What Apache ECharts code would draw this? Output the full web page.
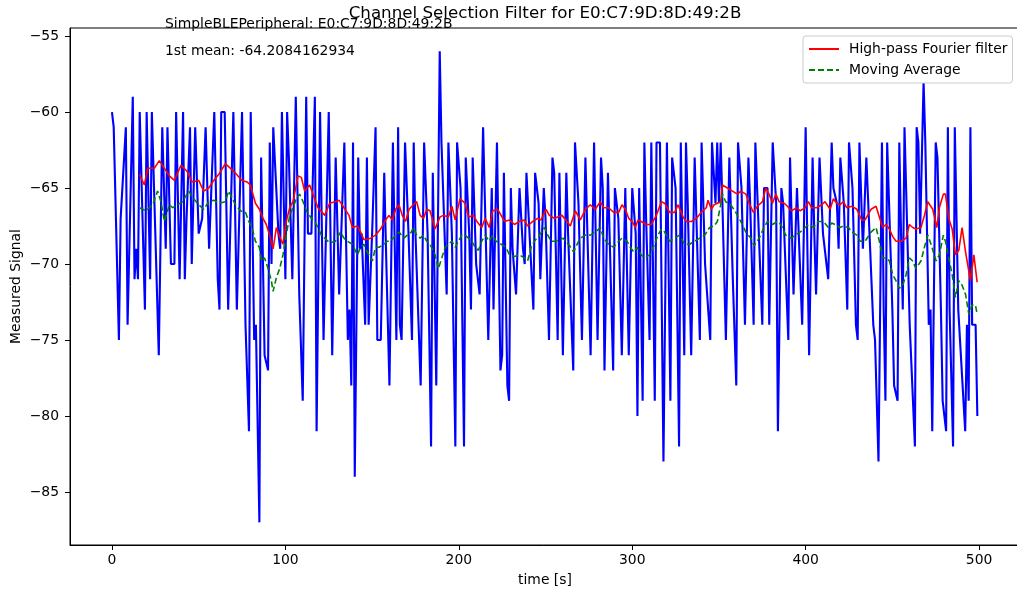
<!DOCTYPE html>
<html>
<head>
<meta charset="utf-8">
<script src="https://cdn.jsdelivr.net/npm/echarts@6/dist/echarts.min.js"></script>
<style>
  html, body { margin: 0; padding: 0; background: #ffffff; }
  #chart { width: 1017px; height: 594px; }
</style>
</head>
<body>
<div id="chart"></div>
<script>
// RSSI samples of the peripheral, as [time s, dBm] vertices
const rawSignal = [
  [0,-60],[1,-61],[2,-61],[4,-75],[5,-67],[6,-67],[8,-61],[9,-74],[12,-59],[13,-71],[14,-69],[15,-71],
  [16,-60],[17,-60],[19,-73],[20,-60],[21,-60],[22,-71],[23,-60],[24,-60],[27,-76],[29,-61],[30,-61],
  [31,-69],[32,-61],[33,-61],[34,-70],[36,-70],[37,-60],[38,-60],[39,-71],[41,-60],[42,-71],[43,-67],
  [45,-61],[46,-70],[48,-61],[50,-68],[52,-67],[54,-61],[56,-69],[59,-60],[61,-71],[62,-73],[63,-60],
  [65,-60],[67,-73],[70,-60],[72,-73],[75,-60],[77,-74],[79,-81],[80,-60],[82,-75],[83,-74],[85,-87],
  [86,-63],[88,-76],[90,-77],[91,-62],[92,-70],[93,-61],[96,-68],[97,-69],[98,-60],[100,-71],[101,-60],
  [102,-63],[103,-63],[104,-71],[106,-59],[107,-59],[108,-72],[110,-79],[112,-59],[113,-68],[115,-68],
  [117,-59],[118,-81],[120,-60],[122,-75],[123,-75],[125,-60],[127,-76],[129,-63],[131,-72],[134,-62],
  [136,-75],[137,-73],[138,-78],[139,-62],[140,-84],[142,-63],[143,-69],[144,-68],[146,-74],[147,-63],
  [148,-74],[150,-68],[152,-61],[153,-75],[155,-75],[157,-64],[158,-69],[160,-78],[162,-62],[164,-75],
  [165,-61],[166,-74],[167,-75],[169,-62],[171,-68],[173,-75],[174,-62],[175,-68],[178,-78],[180,-62],
  [182,-68],[184,-82],[185,-64],[187,-78],[189,-56],[190,-62],[191,-62],[193,-72],[194,-62],[196,-68],
  [198,-82],[199,-62],[201,-65],[203,-82],[204,-63],[206,-68],[207,-73],[208,-63],[210,-70],[212,-72],
  [213,-72],[214,-61],[217,-75],[219,-65],[220,-73],[222,-62],[224,-77],[225,-76],[226,-64],[228,-78],
  [229,-79],[230,-65],[231,-69],[233,-72],[234,-72],[235,-65],[237,-69],[238,-70],[239,-64],[240,-64],
  [243,-73],[244,-64],[246,-66],[247,-71],[249,-65],[250,-67],[252,-75],[253,-75],[254,-63],[255,-64],
  [257,-75],[258,-64],[260,-76],[262,-64],[263,-68],[264,-68],[266,-77],[267,-62],[269,-66],[271,-75],
  [273,-63],[276,-76],[278,-62],[280,-75],[282,-63],[283,-65],[284,-77],[286,-64],[289,-77],[290,-65],
  [292,-67],[294,-76],[296,-65],[298,-76],[300,-65],[302,-68],[303,-80],[304,-65],[305,-65],[306,-79],
  [307,-62],[308,-67],[310,-75],[311,-62],[313,-79],[314,-62],[316,-62],[318,-83],[320,-62],[322,-79],
  [323,-63],[325,-65],[327,-82],[328,-62],[330,-76],[331,-62],[332,-66],[333,-66],[334,-76],[336,-63],
  [339,-75],[340,-62],[342,-70],[345,-75],[346,-62],[348,-66],[349,-62],[350,-66],[351,-62],[352,-66],
  [353,-66],[354,-75],[356,-63],[357,-63],[358,-71],[360,-78],[361,-62],[363,-65],[365,-74],[366,-74],
  [367,-63],[368,-66],[370,-74],[371,-62],[373,-68],[375,-74],[376,-65],[378,-65],[379,-74],[381,-62],
  [383,-66],[384,-81],[386,-65],[387,-66],[388,-66],[390,-75],[391,-63],[392,-63],[393,-72],[395,-65],
  [396,-65],[398,-74],[400,-61],[401,-69],[402,-76],[404,-63],[405,-68],[406,-72],[408,-63],[410,-68],
  [413,-71],[415,-62],[416,-65],[418,-66],[419,-69],[420,-63],[422,-66],[424,-73],[425,-62],[427,-65],
  [429,-74],[430,-75],[431,-62],[433,-69],[434,-69],[435,-63],[436,-63],[439,-74],[440,-75],[442,-83],
  [444,-62],[445,-73],[446,-79],[447,-62],[448,-62],[450,-73],[451,-78],[453,-79],[454,-62],[455,-68],
  [456,-73],[457,-61],[458,-61],[460,-74],[461,-74],[463,-82],[464,-61],[465,-62],[466,-68],[468,-58],
  [469,-62],[470,-62],[471,-74],[472,-73],[473,-81],[475,-62],[476,-63],[478,-73],[479,-79],[481,-81],
  [482,-61],[483,-73],[485,-82],[486,-61],[487,-61],[488,-73],[489,-73],[492,-81],[493,-74],[494,-79],
  [495,-61],[496,-74],[498,-74],[499,-80]
];

// High-pass Fourier filter output
const fourierFilter = [
  [15.8,-64.1],[18.7,-64.8],[20.6,-63.7],[24.4,-63.7],[27.3,-63.2],[33.1,-64.2],[36,-64.5],[39.8,-63.5],
  [43.3,-63.9],[46.2,-64.6],[50,-64.5],[52.9,-65.2],[55.8,-65.0],[58.7,-64.5],[61.6,-64.1],[65.4,-63.4],
  [70.2,-63.9],[75,-64.5],[77.9,-64.6],[79.8,-64.8],[82.7,-66.0],[85,-66.4],[87.1,-67.0],[89,-67.4],
  [90.9,-68.1],[92.9,-69.0],[94.8,-67.6],[96.7,-68.2],[98.6,-68.7],[100.5,-67.2],[102.5,-66.3],
  [104.4,-65.9],[107.3,-64.2],[109.2,-64.3],[111.1,-65.2],[114,-64.8],[115.9,-65.4],[118.8,-66.3],
  [122.7,-66.8],[125.5,-66.0],[128.8,-65.9],[130.9,-65.8],[133.8,-66.3],[136.7,-66.8],[138.6,-67.6],
  [141.5,-67.5],[143.4,-67.9],[145.3,-68.4],[149.2,-68.3],[152,-68.1],[154.9,-67.7],[157.8,-67.1],
  [159.7,-66.8],[161.7,-67.1],[163.6,-66.4],[165.5,-66.1],[167.4,-66.8],[169.3,-67.2],[171.3,-66.4],
  [173.8,-66.1],[175.7,-65.9],[177.7,-66.8],[179.6,-67.0],[181.5,-66.4],[183.4,-66.5],[186.3,-67.7],
  [189.2,-66.9],[191.1,-66.8],[194,-66.9],[196,-66.2],[197.9,-67.1],[200.7,-65.7],[203.6,-66.0],
  [205.6,-66.9],[208.4,-66.8],[210.4,-67.2],[213.2,-67.6],[215.2,-67.0],[217.6,-67.6],[219.5,-66.5],
  [222.4,-66.4],[224.4,-66.8],[226.3,-67.2],[229.2,-67.1],[232.1,-67.4],[234.9,-67.2],[237.8,-67.1],
  [239.7,-67.5],[242.6,-67.2],[245.5,-67.0],[247.4,-67.1],[250.3,-66.4],[252.2,-66.8],[255.1,-67.0],
  [257,-66.9],[259.5,-66.8],[262.4,-67.2],[264.3,-67.5],[267.2,-66.5],[270.1,-67.1],[273,-66.4],
  [275.8,-66.1],[278.7,-66.4],[281.6,-65.9],[283.5,-66.3],[286.4,-66.3],[289.3,-66.6],[292.2,-66.6],
  [294.1,-66.1],[296,-66.4],[298,-67.0],[299.9,-67.2],[301.8,-67.6],[303.3,-67.1],[305.2,-67.2],
  [308.1,-67.4],[311,-67.4],[313.9,-66.8],[316.8,-65.9],[318.7,-66.0],[321.6,-66.6],[324.5,-66.6],
  [326.4,-66.1],[329.3,-66.9],[331.2,-67.2],[334.1,-67.2],[337,-67.0],[339.8,-66.6],[342.7,-66.3],
  [343.7,-65.8],[345.6,-66.4],[347.2,-66.1],[351,-65.9],[352,-64.8],[354.9,-65.0],[357.8,-65.2],
  [360.7,-65.4],[362.6,-65.2],[365.5,-65.4],[367.4,-66.0],[369.9,-66.6],[372.2,-66.2],[375.1,-65.9],
  [377,-65.0],[378.9,-65.4],[380.9,-66.0],[382.8,-65.4],[384.7,-65.9],[387.6,-66.0],[389.5,-66.2],
  [391.8,-66.5],[394.8,-66.3],[396.8,-66.5],[399.7,-66.3],[401.6,-65.9],[403.5,-66.3],[406.4,-66.3],
  [409.3,-66.1],[411.2,-65.9],[414.1,-66.4],[416,-65.7],[417.9,-66.0],[419.8,-66.1],[421.8,-65.9],
  [423.7,-66.3],[426.6,-66.2],[429.5,-66.4],[432.3,-67.1],[434.3,-67.1],[437.7,-66.4],[440.6,-66.2],
  [442.5,-66.9],[444.4,-67.6],[446.3,-67.4],[448.3,-67.7],[450.2,-68.2],[452.1,-68.5],[455,-68.5],
  [457.9,-68.3],[459.8,-67.4],[461.7,-67.6],[463.6,-67.7],[466.5,-67.6],[468.5,-66.8],[470.4,-65.9],
  [473.3,-66.4],[475.6,-67.6],[477.1,-66.3],[479.4,-65.4],[480.6,-65.4],[482.5,-67.0],[484.5,-67.7],
  [486.4,-69.4],[488.3,-69.1],[490.2,-67.6],[492.2,-69.2],[495,-71.1],[497,-69.4],[498.9,-71.2]
];

// Moving average of the raw signal
const movingAverage = [
  [15.8,-66.3],[19.6,-66.5],[23.5,-66.1],[26.3,-65.2],[28.3,-65.9],[30.2,-67.2],[33.1,-66.1],[35,-66.3],
  [37.9,-66.1],[40.8,-65.9],[44.2,-65.2],[47.1,-65.7],[50,-66.1],[52.9,-66.4],[55.8,-65.9],[58.7,-65.8],
  [61.6,-66.0],[65.4,-65.9],[67.3,-65.2],[71.2,-66.1],[74.1,-66.5],[77,-66.6],[78.9,-67.2],[80.8,-67.6],
  [82.7,-68.5],[85,-68.9],[86.1,-69.8],[88,-69.6],[90,-70.3],[91.9,-71.1],[92.9,-71.8],[94.8,-70.9],
  [96.7,-70.3],[98.6,-69.4],[100.5,-68.1],[102.5,-66.8],[104.4,-66.3],[106.3,-65.7],[108.2,-65.4],
  [110.2,-65.9],[112.1,-66.5],[115,-67.0],[116.9,-67.2],[118.8,-67.6],[120.7,-68.1],[122.7,-68.3],
  [125.5,-68.6],[128.8,-68.5],[131.8,-67.9],[133.8,-68.3],[135.7,-68.5],[138.6,-68.7],[141.5,-69.4],
  [143.4,-68.9],[145.3,-68.7],[147.2,-69.2],[150.1,-69.8],[152,-68.9],[154,-68.9],[156.8,-68.7],
  [158.8,-68.5],[160.7,-68.5],[163.6,-68.1],[165.5,-67.9],[168.4,-68.3],[170.3,-68.1],[172.6,-67.9],
  [173.8,-67.6],[175.7,-68.1],[177.7,-68.3],[179.6,-68.1],[181.5,-68.5],[183.4,-68.7],[186.3,-69.4],
  [188.2,-70.3],[190.2,-69.6],[192.1,-68.9],[194,-68.7],[196,-68.5],[197.9,-68.9],[199.8,-68.5],
  [201.7,-68.1],[203.6,-68.1],[205.6,-68.3],[207.5,-68.5],[209.4,-68.9],[211.3,-69.1],[213.2,-68.5],
  [215.2,-68.1],[217.6,-68.5],[219.5,-68.1],[221.5,-68.5],[224.4,-68.7],[227.2,-68.9],[229.2,-69.4],
  [232.1,-69.5],[234.9,-69.4],[237.8,-69.6],[239.7,-69.8],[241.7,-68.9],[243.6,-68.5],[246.5,-68.1],
  [249.4,-67.6],[251.3,-68.1],[253.2,-68.5],[256.1,-68.5],[260.3,-68.3],[261.4,-68.5],[263.3,-68.7],
  [266.2,-69.2],[268.2,-68.7],[270.1,-68.3],[273,-68.1],[275.8,-68.1],[278.7,-67.9],[281.6,-67.6],
  [283.5,-68.3],[286.4,-68.7],[289.3,-68.9],[292.2,-68.5],[294.1,-68.3],[297,-68.5],[298.9,-68.9],
  [300.8,-69.2],[302.8,-68.9],[305.2,-69.4],[307.1,-69.6],[310,-69.4],[312.9,-68.7],[314.8,-68.1],
  [316.8,-67.7],[318.7,-67.9],[321.6,-68.5],[324.5,-68.3],[327.3,-68.1],[330.2,-68.7],[333.1,-68.7],
  [336,-68.5],[338.9,-68.3],[341.8,-68.1],[344.6,-67.6],[347.2,-67.5],[349.1,-67.2],[351,-66.1],
  [352,-65.4],[353.9,-65.9],[356.8,-66.1],[359.7,-66.6],[362.6,-67.2],[365.5,-67.9],[368.4,-68.3],
  [370.3,-68.8],[373.2,-68.3],[376,-67.6],[378,-67.2],[380.9,-67.4],[383.7,-67.2],[385.7,-67.4],
  [388.5,-68.1],[391.8,-68.3],[393.9,-68.1],[396.8,-67.9],[399.7,-67.6],[401.6,-67.4],[404.5,-67.6],
  [407.3,-67.2],[410.2,-67.2],[413.1,-67.6],[415,-67.3],[417,-67.4],[419.8,-67.6],[421.8,-67.5],
  [424.7,-67.6],[426.6,-67.9],[429.5,-68.1],[431.4,-68.5],[434.3,-68.5],[437.7,-67.9],[440.6,-67.6],
  [442.5,-68.5],[444.4,-69.6],[446.3,-69.6],[448.3,-69.8],[450.2,-70.7],[452.1,-71.1],[454,-71.6],
  [456,-71.4],[457.9,-70.7],[459.8,-69.6],[461.7,-69.8],[463.6,-70.3],[466.5,-69.8],[468.5,-68.9],
  [470.4,-68.1],[472.3,-68.7],[475.2,-69.8],[477.1,-69.4],[479.4,-68.1],[480.6,-68.5],[482.5,-69.6],
  [484.5,-70.7],[486.4,-72.2],[488.3,-71.1],[490.2,-71.4],[492.2,-72.0],[494.1,-73.3],[496,-72.7],
  [497.9,-72.7],[498.9,-73.3]
];

const xTicks = [0, 100, 200, 300, 400, 500];
const yTicks = [-85, -80, -75, -70, -65, -60, -55];

const chartTitle = 'Channel Selection Filter for E0:C7:9D:8D:49:2B';
const deviceNote = 'SimpleBLEPeripheral: E0:C7:9D:8D:49:2B';
const meanNote = '1st mean: -64.2084162934';

const FONT = 'DejaVu Sans';
// tick labels use the typographic minus sign
const fmtTick = v => String(v).replace('-', '\u2212');

const chart = echarts.init(document.getElementById('chart'), null, { renderer: 'canvas' });

chart.setOption({
  animation: false,
  backgroundColor: '#ffffff',
  textStyle: { fontFamily: FONT },
  grid: {
    left: 70, top: 28, right: -3, bottom: 49,
    outerBoundsMode: 'none', containLabel: false,
    show: true, borderColor: '#000000', borderWidth: 1, backgroundColor: 'transparent'
  },
  xAxis: {
    type: 'value',
    min: -24.2, max: 523.6,
    name: 'time [s]', nameLocation: 'middle', nameGap: 28, nameMoveOverlap: false,
    nameTextStyle: { color: '#000', fontSize: 13.9, fontFamily: FONT },
    axisLine: { show: true, onZero: false, lineStyle: { color: '#000', width: 1 } },
    axisTick: { show: true, length: 5, lineStyle: { color: '#000' }, customValues: xTicks },
    axisLabel: { color: '#000', fontSize: 13.9, fontFamily: FONT, margin: 8, customValues: xTicks, formatter: fmtTick },
    splitLine: { show: false }
  },
  yAxis: {
    type: 'value',
    min: -88.49, max: -54.47,
    name: 'Measured Signal', nameLocation: 'middle', nameGap: 47, nameRotate: 90, nameMoveOverlap: false,
    nameTextStyle: { color: '#000', fontSize: 13.9, fontFamily: FONT },
    axisLine: { show: true, onZero: false, lineStyle: { color: '#000', width: 1 } },
    axisTick: { show: true, length: 5, lineStyle: { color: '#000' }, customValues: yTicks },
    axisLabel: { color: '#000', fontSize: 13.9, fontFamily: FONT, margin: 11, customValues: yTicks, formatter: fmtTick },
    splitLine: { show: false }
  },
  legend: {
    data: ['High-pass Fourier filter', 'Moving Average'],
    orient: 'vertical',
    left: 803, top: 36,
    padding: [6, 5, 6, 5],
    itemGap: 7,
    itemWidth: 30, itemHeight: 14,
    itemStyle: { opacity: 0 },
    backgroundColor: '#ffffff',
    borderColor: '#cccccc', borderWidth: 1, borderRadius: 3,
    textStyle: { color: '#000', fontSize: 13.9, fontFamily: FONT, padding: [0, 0, 0, 5] }
  },
  graphic: [
    { type: 'text', x: 545, y: 5, style: { text: chartTitle, fill: '#000', font: '16.7px "DejaVu Sans"', textAlign: 'center' } },
    { type: 'text', x: 165, y: 17, style: { text: deviceNote, fill: '#000', font: '13.9px "DejaVu Sans"' } },
    { type: 'text', x: 165, y: 44, style: { text: meanNote, fill: '#000', font: '13.9px "DejaVu Sans"' } }
  ],
  series: [
    {
      name: 'RSSI',
      type: 'line',
      data: rawSignal,
      symbol: 'none',
      lineStyle: { color: '#0000ff', width: 2.1 },
      itemStyle: { color: '#0000ff' },
      z: 2
    },
    {
      name: 'High-pass Fourier filter',
      type: 'line',
      data: fourierFilter,
      symbol: 'none',
      lineStyle: { color: '#ff0000', width: 1.6 },
      itemStyle: { color: '#ff0000' },
      z: 3
    },
    {
      name: 'Moving Average',
      type: 'line',
      data: movingAverage,
      symbol: 'none',
      lineStyle: { color: '#008000', width: 1.6, type: [6, 3] },
      itemStyle: { color: '#008000' },
      z: 4
    }
  ]
});
</script>
</body>
</html>
